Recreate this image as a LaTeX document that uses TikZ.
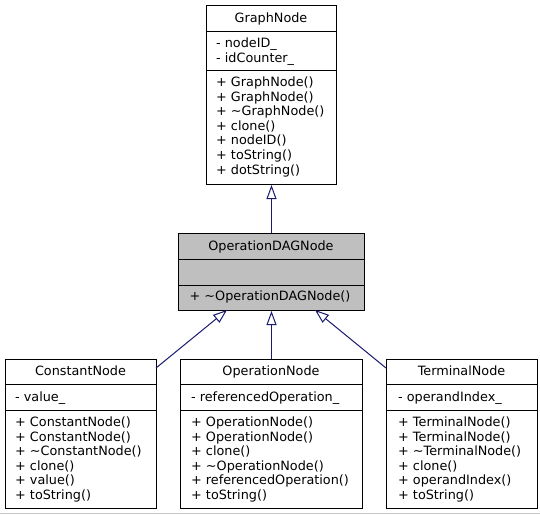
\documentclass[tikz,border=0pt]{standalone}
\usepackage{fontspec}
\setmainfont{DejaVu Sans}
\usetikzlibrary{arrows.meta}
\definecolor{edgeblue}{HTML}{191970}
\definecolor{dagfill}{HTML}{BFBFBF}
\definecolor{bottomgray}{HTML}{C8C8C8}
\tikzset{
  classbox/.style={draw=black, line width=1pt, inner sep=0pt, anchor=north west},
  sepline/.style={draw=black, line width=1pt},
  txt/.style={anchor=base west, inner sep=0pt, font=\fontsize{12.8}{14.6}\selectfont},
  ttl/.style={anchor=base, inner sep=0pt, font=\fontsize{12.8}{14.6}\selectfont},
  inherit/.style={draw=edgeblue, line width=1pt, -{Triangle[open, length=14pt, width=10pt, fill=white]}}
}
\begin{document}
\begin{tikzpicture}[x=1pt,y=-1pt]
\useasboundingbox (0,0) rectangle (540,515);
\fill[white] (0,0) rectangle (540,515);
\draw[bottomgray, line width=1.5pt] (0,513.5) -- (540,513.5);

% GraphNode
\node[classbox, minimum width=130pt, minimum height=179pt] (gn) at (206,5) {};
\draw[sepline] (206,31) -- (336,31);
\draw[sepline] (206,70) -- (336,70);
\node[ttl] (gnt) at (271,22) {GraphNode};
\node[txt] (gna1) at (216,47.5) {- nodeID\_};
\node[txt] (gna2) at (216,62.1) {- idCounter\_};
\node[txt] (gnm1) at (216,86.5) {+ GraphNode()};
\node[txt] (gnm2) at (216,101.1) {+ GraphNode()};
\node[txt] (gnm3) at (216,115.7) {+ \textasciitilde GraphNode()};
\node[txt] (gnm4) at (216,130.3) {+ clone()};
\node[txt] (gnm5) at (216,144.9) {+ nodeID()};
\node[txt] (gnm6) at (216,159.5) {+ toString()};
\node[txt] (gnm7) at (216,174.1) {+ dotString()};

% OperationDAGNode
\node[classbox, fill=dagfill, minimum width=186pt, minimum height=77pt] (dag) at (178,233) {};
\draw[sepline] (178,259) -- (364,259);
\draw[sepline] (178,285) -- (364,285);
\node[ttl] (dagt) at (271,250) {OperationDAGNode};
\node[txt] (dagm1) at (189.5,300.5) {+ \textasciitilde OperationDAGNode()};

% ConstantNode
\node[classbox, minimum width=151pt, minimum height=149pt] (cn) at (5,359) {};
\draw[sepline] (5,384) -- (156,384);
\draw[sepline] (5,410) -- (156,410);
\node[ttl] (cnt) at (80.5,375.5) {ConstantNode};
\node[txt] (cna1) at (15,401.5) {- value\_};
\node[txt] (cnm1) at (15,426.5) {+ ConstantNode()};
\node[txt] (cnm2) at (15,441.1) {+ ConstantNode()};
\node[txt] (cnm3) at (15,455.7) {+ \textasciitilde ConstantNode()};
\node[txt] (cnm4) at (15,470.3) {+ clone()};
\node[txt] (cnm5) at (15,484.9) {+ value()};
\node[txt] (cnm6) at (15,499.5) {+ toString()};

% OperationNode
\node[classbox, minimum width=182pt, minimum height=149pt] (on) at (180,359) {};
\draw[sepline] (180,384) -- (362,384);
\draw[sepline] (180,410) -- (362,410);
\node[ttl] (ont) at (271,375.5) {OperationNode};
\node[txt] (ona1) at (191,401.5) {- referencedOperation\_};
\node[txt] (onm1) at (191,426.5) {+ OperationNode()};
\node[txt] (onm2) at (191,441.1) {+ OperationNode()};
\node[txt] (onm3) at (191,455.7) {+ clone()};
\node[txt] (onm4) at (191,470.3) {+ \textasciitilde OperationNode()};
\node[txt] (onm5) at (191,484.9) {+ referencedOperation()};
\node[txt] (onm6) at (191,499.5) {+ toString()};

% TerminalNode
\node[classbox, minimum width=151pt, minimum height=149pt] (tn) at (386,359) {};
\draw[sepline] (386,384) -- (537,384);
\draw[sepline] (386,410) -- (537,410);
\node[ttl] (tnt) at (461.5,375.5) {TerminalNode};
\node[txt] (tna1) at (398,401.5) {- operandIndex\_};
\node[txt] (tnm1) at (398,426.5) {+ TerminalNode()};
\node[txt] (tnm2) at (398,441.1) {+ TerminalNode()};
\node[txt] (tnm3) at (398,455.7) {+ \textasciitilde TerminalNode()};
\node[txt] (tnm4) at (398,470.3) {+ clone()};
\node[txt] (tnm5) at (398,484.9) {+ operandIndex()};
\node[txt] (tnm6) at (398,499.5) {+ toString()};

% connector end points
\coordinate (cnE) at (156,368);
\coordinate (tnW) at (386,368);
\coordinate (dagL) at (227,310);
\coordinate (dagR) at (315,310);

% inheritance edges
\draw[inherit] (dag.north) -- (gn.south);
\draw[inherit] (cnE) -- (dagL);
\draw[inherit] (on.north) -- (dag.south);
\draw[inherit] (tnW) -- (dagR);
\end{tikzpicture}
\end{document}
